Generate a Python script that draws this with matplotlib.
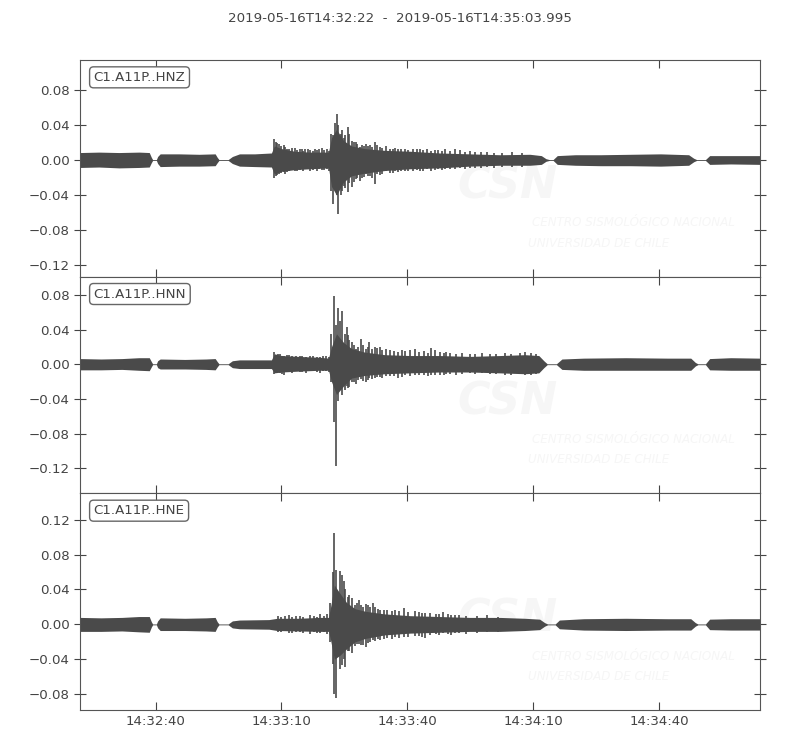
import numpy as np
import matplotlib
matplotlib.use("Agg")
import matplotlib.pyplot as plt
import matplotlib.dates as mdates
from matplotlib.ticker import MultipleLocator

START = np.datetime64("2019-05-16T14:32:22.000")
END_SECONDS = 161.995
title = "2019-05-16T14:32:22  -  2019-05-16T14:35:03.995"
channels = ["C1.A11P..HNZ", "C1.A11P..HNN", "C1.A11P..HNE"]

# envelope of the dense trace (seconds after start, upper, lower)
hnz_t = [0, 4.5, 9.3, 14.1, 16.5, 17.0, 17.3, 18.2, 18.5, 19.1, 23.6, 28.4, 32.2, 32.7, 33.1,
         35.3, 36.3, 38.0, 41.6, 45.6, 46.3, 48.0, 51.1, 54.7, 59.2, 59.9, 61.1, 62.8, 64.7,
         67.8, 72.6, 78.6, 85.7, 92.9, 100.1, 107.2, 109.9, 111.0, 111.8, 112.7, 113.7, 118.0,
         124.0, 131.1, 138.3, 145.0, 146.2, 146.9, 149.0, 150.0, 155.0, 162.0]
hnz_hi = [.0085, .009, .0085, .009, .0085, .003, .0005, .0005, .004, .007, .007, .0065, .007, .003, .0005,
          .0005, .004, .007, .007, .008, .016, .013, .010, .009, .009, .025, .035, .022, .016,
          .013, .011, .010, .008, .007, .006, .0065, .005, .0015, .0005, .0005, .005, .006,
          .006, .0065, .007, .006, .002, .0005, .0005, .005, .005, .005]
hnz_lo = [-.0085, -.008, -.009, -.0085, -.008, -.003, -.0005, -.0005, -.004, -.0075, -.007, -.007, -.0065, -.003, -.0005,
          -.0005, -.004, -.007, -.0075, -.008, -.016, -.013, -.011, -.010, -.009, -.030, -.040, -.025, -.018,
          -.015, -.012, -.010, -.009, -.007, -.006, -.006, -.005, -.0015, -.0005, -.0005, -.005, -.006,
          -.0065, -.0065, -.007, -.006, -.002, -.0005, -.0005, -.005, -.0045, -.005]

hnn_t = [0, 5, 10, 14, 16.5, 17.0, 17.3, 18.2, 18.5, 19.1, 25, 30, 32.2, 32.7, 33.1,
         35.3, 36.3, 38, 45.6, 46.3, 48, 52, 57, 59.2, 59.9, 61.1, 62.8, 64.7,
         67.8, 72.6, 78.6, 85.7, 92.9, 100, 106, 109.3, 110.5, 111.3, 113.5, 114.8, 120,
         130, 140, 145.5, 146.6, 147.2, 149.0, 150.0, 155, 162]
hnn_hi = [.0065, .006, .0065, .0075, .0075, .003, .0005, .0005, .004, .006, .0055, .006, .0065, .003, .0005,
          .0005, .004, .005, .005, .012, .010, .009, .008, .007, .020, .035, .025, .018,
          .014, .011, .010, .010, .009, .010, .011, .010, .004, .0005, .0005, .006, .007,
          .0075, .007, .007, .002, .0005, .0005, .0065, .0075, .007]
hnn_lo = [-.0065, -.0065, -.006, -.007, -.0075, -.003, -.0005, -.0005, -.004, -.0055, -.0055, -.006, -.0065, -.003, -.0005,
          -.0005, -.004, -.005, -.005, -.010, -.009, -.008, -.007, -.007, -.020, -.035, -.025, -.016,
          -.013, -.011, -.010, -.009, -.009, -.010, -.011, -.010, -.004, -.0005, -.0005, -.006, -.007,
          -.007, -.007, -.007, -.002, -.0005, -.0005, -.0065, -.007, -.007]

hne_t = [0, 5, 10, 14, 16.5, 17.0, 17.3, 18.2, 18.5, 19.1, 25, 30, 32.2, 32.7, 33.1,
         35.3, 36.3, 38, 45, 47, 52, 57, 59.2, 59.7, 60.6, 62, 63.5, 65.5,
         68, 72.6, 78.6, 85.7, 92.9, 100, 106, 109.5, 110.7, 111.4, 113.2, 114.2, 120,
         130, 140, 145.5, 146.6, 147.2, 149.0, 150.0, 155, 162]
hne_hi = [.008, .0075, .008, .009, .009, .003, .0005, .0005, .004, .0075, .007, .0075, .008, .003, .0005,
          .0005, .004, .005, .0055, .007, .007, .008, .008, .020, .045, .035, .025, .018,
          .015, .012, .010, .009, .008, .008, .007, .006, .002, .0005, .0005, .005, .0065,
          .007, .0065, .0065, .002, .0005, .0005, .006, .0065, .0065]
hne_lo = [-.008, -.008, -.0075, -.0085, -.009, -.003, -.0005, -.0005, -.004, -.007, -.007, -.0075, -.008, -.003, -.0005,
          -.0005, -.004, -.005, -.0055, -.007, -.0075, -.008, -.008, -.018, -.040, -.035, -.028, -.020,
          -.016, -.012, -.010, -.009, -.008, -.008, -.007, -.006, -.002, -.0005, -.0005, -.005, -.0065,
          -.007, -.0065, -.0065, -.002, -.0005, -.0005, -.006, -.0065, -.0065]

# the larger single swings that stick out of the envelope
hnz_spk_t = [46.3, 46.8, 47.5, 48.5, 49.9, 51.3, 52.3, 53.7, 54.9, 55.9, 57.6, 58.8, 59.9, 60.2, 60.7,
             61.2, 61.5, 62.1, 62.8, 63.8, 64.7, 65.8, 66.6, 67.1, 68.5, 70.2, 71.4, 73.8, 75.7,
             77.4, 79.3, 81.0, 84.5, 86.9, 89.3, 94.1]
hnz_spk_hi = [.024, .021, .018, .017, .013, .014, .012, .013, .011, .012, .014, .013, .030, .028, .0417,
              .0528, .040, .030, .025, .0375, .022, .0203, .015, .017, .016, .0203, .015, .013, .0128,
              .012, .0128, .013, .011, .012, .012, .009]
hnz_spk_lo = [-.021, -.018, -.016, -.014, -.013, -.012, -.011, -.010, -.012, -.010, -.011, -.010, -.035, -.0497, -.030,
              -.040, -.0615, -.040, -.030, -.0368, -.031, -.022, -.0234, -.020, -.018, -.0272, -.017, -.015, -.014,
              -.012, -.013, -.012, -.011, -.010, -.010, -.009]

hnn_spk_t = [46.3, 47.1, 48.7, 49.9, 52.3, 54.7, 57.1, 58.5, 59.9, 60.4, 60.9, 61.5, 62.5, 63.1, 63.6,
             64.1, 64.7, 65.8, 66.9, 68.1, 68.9, 70.2, 71.4, 73.8, 76.6, 79.8, 83.5, 85.7, 88.1,
             92.9, 97.7, 104.8]
hnn_spk_hi = [.0138, .012, .010, .011, .009, .010, .008, .009, .035, .0792, .045, .065, .0611, .035, .0427,
              .028, .0254, .018, .0293, .018, .0262, .020, .0196, .016, .016, .017, .0189, .014, .013,
              .012, .012, .013]
hnn_spk_lo = [-.011, -.009, -.012, -.009, -.009, -.008, -.010, -.008, -.020, -.0669, -.118, -.0419, -.036, -.030, -.025,
              -.0265, -.020, -.0226, -.017, -.0208, -.016, -.016, -.015, -.014, -.015, -.012, -.013, -.012, -.011,
              -.010, -.011, -.011]

hne_spk_t = [47.1, 49.9, 52.3, 54.7, 57.1, 58.8, 59.6, 60.2, 60.6, 61.1, 61.9, 62.4, 63.1, 63.8, 64.7,
             65.4, 66.4, 67.4, 68.1, 69.0, 69.8, 70.9, 72.4, 74.3, 77.2, 79.8, 82.2, 84.8, 86.4, 89.3]
hne_spk_hi = [.010, .011, .010, .011, .012, .012, .025, .060, .1048, .0625, .0609, .0571, .040, .0312, .030,
              .022, .0274, .020, .0237, .020, .0243, .018, .016, .015, .019, .015, .013, .012, .014, .011]
hne_spk_lo = [-.009, -.010, -.009, -.011, -.010, -.011, -.020, -.045, -.0792, -.0838, -.0506, -.0469, -.0488, -.030, -.0328,
              -.025, -.022, -.024, -.0259, -.020, -.018, -.017, -.0163, -.017, -.014, -.013, -.015, -.0106, -.010, -.010]

# smaller swings in the P and S coda
hnz_coda_t = [47.0, 47.9, 48.9, 49.4, 50.5, 51.8, 52.8, 53.2, 54.3, 55.4, 56.4, 57.0, 58.2, 59.3,
              62.4, 63.2, 64.2, 65.2, 66.1, 67.6, 68.1, 69.0, 69.6, 70.8, 72.0, 72.9, 74.5, 75.1,
              76.5, 78.1, 80.2, 81.8, 82.7, 83.6, 85.4, 86.2, 88.1, 90.5, 91.7, 92.9, 95.5, 97.0,
              98.6, 100.5, 103.0, 105.4]
hnz_coda_hi = [.019, .016, .015, .012, .014, .011, .013, .010, .012, .010, .011, .012, .011, .010,
               .034, .028, .030, .020, .018, .016, .018, .017, .015, .017, .014, .016, .012, .014,
               .013, .011, .012, .011, .012, .010, .011, .010, .010, .011, .009, .010, .009, .009,
               .008, .008, .009, .008]
hnz_coda_lo = [-.017, -.015, -.016, -.014, -.011, -.013, -.010, -.012, -.010, -.011, -.012, -.010, -.011, -.012,
               -.035, -.032, -.026, -.025, -.020, -.019, -.016, -.018, -.020, -.016, -.016, -.013, -.015, -.012,
               -.013, -.013, -.011, -.012, -.010, -.012, -.010, -.011, -.010, -.009, -.010, -.009, -.009, -.008,
               -.009, -.008, -.008, -.008]

hnn_coda_t = [47.6, 48.2, 49.3, 50.6, 51.4, 53.0, 53.8, 55.6, 56.4, 57.8, 59.2,
              62.0, 63.9, 65.2, 66.3, 67.4, 68.5, 69.6, 70.8, 72.0, 72.9, 74.8, 75.7, 77.4, 78.6,
              80.8, 81.9, 82.9, 84.5, 86.6, 87.3, 89.5, 91.0, 94.1, 95.8, 99.0, 101.2, 102.7, 106.0,
              107.4, 108.6]
hnn_coda_hi = [.012, .010, .011, .009, .010, .009, .008, .010, .008, .009, .008,
               .050, .034, .022, .020, .022, .020, .018, .019, .016, .017, .015, .014, .015, .016,
               .014, .015, .013, .016, .013, .014, .012, .013, .012, .013, .012, .013, .012, .014,
               .013, .012]
hnn_coda_lo = [-.010, -.011, -.009, -.010, -.008, -.009, -.010, -.008, -.009, -.008, -.009,
               -.030, -.028, -.020, -.018, -.019, -.018, -.017, -.015, -.016, -.014, -.014, -.016, -.013, -.014,
               -.013, -.012, -.014, -.012, -.012, -.011, -.012, -.011, -.011, -.010, -.011, -.012, -.012, -.012,
               -.012, -.011]

hne_coda_t = [47.8, 48.9, 50.6, 51.5, 53.2, 55.8, 56.4, 58.1,
              62.9, 64.2, 65.9, 66.9, 68.6, 70.3, 71.5, 73.2, 75.1, 76.0, 78.2, 80.8, 81.5, 83.4,
              85.5, 87.6, 88.4, 90.4, 92.0, 94.5, 96.9, 99.5]
hne_coda_hi = [.009, .010, .009, .010, .009, .010, .009, .010,
               .050, .034, .024, .022, .022, .020, .017, .016, .016, .015, .014, .014, .013, .013,
               .012, .012, .011, .011, .010, .010, .011, .009]
hne_coda_lo = [-.009, -.008, -.010, -.009, -.010, -.009, -.010, -.009,
               -.040, -.030, -.022, -.024, -.021, -.019, -.018, -.015, -.014, -.016, -.014, -.013, -.014, -.012,
               -.012, -.011, -.012, -.010, -.011, -.010, -.009, -.009]

ylims = [(-0.133, 0.114), (-0.149, 0.101), (-0.098, 0.150)]

traces = [
    (hnz_t, hnz_hi, hnz_lo, hnz_spk_t + hnz_coda_t, hnz_spk_hi + hnz_coda_hi, hnz_spk_lo + hnz_coda_lo),
    (hnn_t, hnn_hi, hnn_lo, hnn_spk_t + hnn_coda_t, hnn_spk_hi + hnn_coda_hi, hnn_spk_lo + hnn_coda_lo),
    (hne_t, hne_hi, hne_lo, hne_spk_t + hne_coda_t, hne_spk_hi + hne_coda_hi, hne_spk_lo + hne_coda_lo),
]


def to_time(sec):
    return START + np.round(np.asarray(sec, dtype=float) * 1000).astype("timedelta64[ms]")


text_col = "#444444"
trace_col = "#4a4a4a"
mark_col = "#f6f6f6"
plt.rcParams.update({
    "font.family": "DejaVu Sans",
    "font.size": 9.6,
    "text.color": text_col,
    "axes.edgecolor": "#555555",
    "xtick.color": text_col,
    "ytick.color": text_col,
})

fig, axes = plt.subplots(3, 1, figsize=(8, 7.5), dpi=100, sharex=True)
fig.subplots_adjust(left=0.1, right=0.95, top=0.92, bottom=0.0533, hspace=0)
fig.suptitle(title, y=0.984, fontsize=9.6, color=text_col)

for ax, name, (t, hi, lo, st, shi, slo), ylim in zip(axes, channels, traces, ylims):
    # faint institute watermark
    ax.text(0.628, 0.42, "CSN", transform=ax.transAxes, ha="center", va="center",
            fontsize=32, fontweight="bold", style="italic", color=mark_col, zorder=0)
    ax.text(0.664, 0.248, "CENTRO SISMOLÓGICO NACIONAL", transform=ax.transAxes,
            ha="left", va="center", fontsize=8.6, style="italic", color=mark_col, zorder=0)
    ax.text(0.659, 0.155, "UNIVERSIDAD DE CHILE", transform=ax.transAxes,
            ha="left", va="center", fontsize=8.6, style="italic", color=mark_col, zorder=0)

    ax.fill_between(to_time(t), lo, hi, color=trace_col, lw=0, zorder=2)
    ax.vlines(to_time(st), slo, shi, color=trace_col, lw=1.2, zorder=2)

    ax.set_ylim(*ylim)
    ax.yaxis.set_major_locator(MultipleLocator(0.04))
    ax.tick_params(axis="y", direction="inout", length=8, right=True)
    ax.tick_params(axis="x", direction="in", length=6, top=True)

    ax.text(0.02, 0.95, name, transform=ax.transAxes, ha="left", va="top",
            bbox=dict(boxstyle="round", fc="white", ec="#666666", lw=1.0), zorder=5)

axes[-1].set_xlim(to_time(0), to_time(END_SECONDS))
axes[-1].xaxis.set_major_locator(mdates.SecondLocator(bysecond=[10, 40]))
axes[-1].xaxis.set_major_formatter(mdates.DateFormatter("%H:%M:%S"))

fig.savefig("out.png", dpi=100)
